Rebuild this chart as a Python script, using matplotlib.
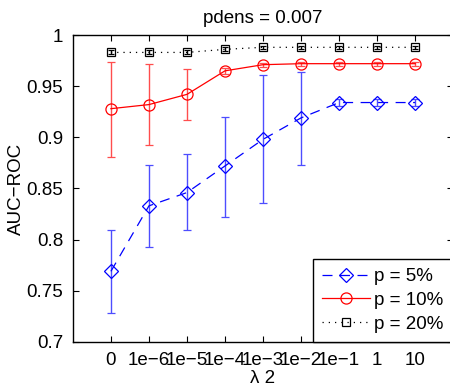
import matplotlib
matplotlib.use("Agg")
import matplotlib.pyplot as plt
from matplotlib.lines import Line2D
import numpy as np

plt.rcParams['font.family'] = ['Liberation Sans', 'DejaVu Sans']

lambda_labels = ['0', '1e\u22126', '1e\u22125', '1e\u22124', '1e\u22123', '1e\u22122', '1e\u22121', '1', '10']

auc_p5 = [0.769, 0.833, 0.846, 0.872, 0.898, 0.919, 0.934, 0.934, 0.934]
err_p5_lo = [0.041, 0.040, 0.037, 0.050, 0.062, 0.046, 0.003, 0.003, 0.003]
err_p5_hi = [0.040, 0.040, 0.038, 0.048, 0.063, 0.045, 0.003, 0.003, 0.003]

auc_p10 = [0.928, 0.932, 0.942, 0.965, 0.971, 0.972, 0.972, 0.972, 0.972]
err_p10_lo = [0.047, 0.040, 0.025, 0.003, 0.002, 0.002, 0.002, 0.002, 0.002]
err_p10_hi = [0.046, 0.040, 0.025, 0.003, 0.002, 0.002, 0.002, 0.002, 0.002]

auc_p20 = [0.983, 0.983, 0.983, 0.986, 0.988, 0.988, 0.988, 0.988, 0.988]
err_p20 = [0.002, 0.002, 0.002, 0.002, 0.0015, 0.0015, 0.0015, 0.0015, 0.0015]

x = np.arange(1, len(lambda_labels) + 1)

fig = plt.figure(figsize=(4.5, 3.85), dpi=100)
ax = fig.add_axes([0.162, 0.112, 0.845, 0.797])

styles = [
    dict(color='#0000ff', ecolor='#4d4dff', ls=(0, (8, 6)), marker='D', ms=7, cap=3, label='p = 5%'),
    dict(color='#ff0000', ecolor='#ff4d4d', ls='-', marker='o', ms=8, cap=3, label='p = 10%'),
    dict(color='#000000', ecolor='#000000', ls=(0, (1, 4)), marker='s', ms=6, cap=2.5, label='p = 20%'),
]
series = [(auc_p5, [err_p5_lo, err_p5_hi]), (auc_p10, [err_p10_lo, err_p10_hi]), (auc_p20, err_p20)]

handles = []
for (y, e), st in zip(series, styles):
    ax.errorbar(x, y, yerr=e, color=st['color'], ecolor=st['ecolor'],
                elinewidth=1.0, capsize=st['cap'], capthick=1.0, linestyle=st['ls'], linewidth=0.9,
                marker=st['marker'], markersize=st['ms'], markerfacecolor='none',
                markeredgecolor=st['color'], markeredgewidth=0.9)
    handles.append(Line2D([], [], color=st['color'], linestyle=st['ls'], linewidth=0.9,
                          marker=st['marker'], markersize=st['ms'], markerfacecolor='none',
                          markeredgecolor=st['color'], markeredgewidth=0.9, label=st['label']))

ax.set_xlim(0, 10)
ax.set_ylim(0.7, 1.0)
ax.set_xticks(x)
ax.set_xticklabels(lambda_labels)
ax.set_yticks([0.7, 0.75, 0.8, 0.85, 0.9, 0.95, 1.0])
ax.set_yticklabels(['0.7', '0.75', '0.8', '0.85', '0.9', '0.95', '1'])
ax.tick_params(direction='in', top=True, right=True, labelsize=13.5, length=4, width=0.8, pad=7)
for s in ax.spines.values():
    s.set_linewidth(1.0)

ax.set_title('pdens = 0.007', fontsize=13.5, pad=9)
ax.set_ylabel('AUC\u2212ROC', fontsize=13.5, labelpad=1)
ax.set_xlabel('\u03bb 2', fontsize=13.5, labelpad=1)

leg = ax.legend(handles=handles, loc='lower right', bbox_to_anchor=(1.0, 0.0), borderaxespad=0,
                fancybox=False, edgecolor='black', framealpha=1, fontsize=13.5,
                handlelength=2.55, handletextpad=0.25, labelspacing=0.35, borderpad=0.5)
leg.get_frame().set_linewidth(1.0)

fig.savefig('out.png', dpi=100)
